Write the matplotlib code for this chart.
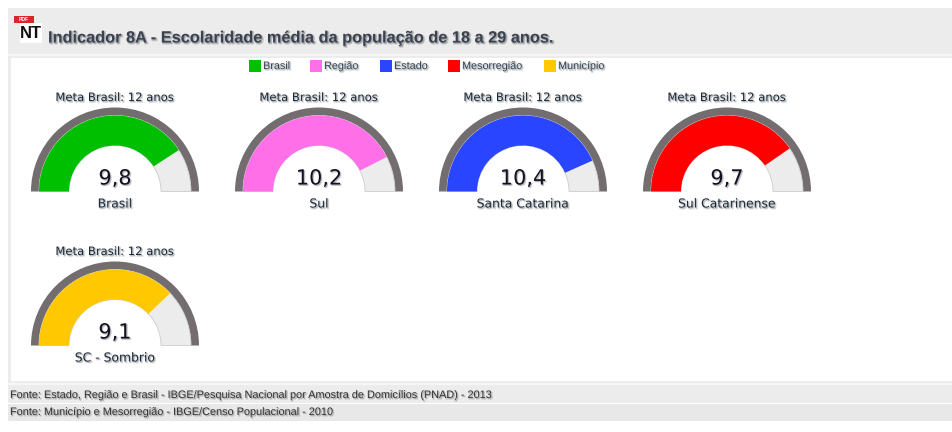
import matplotlib
matplotlib.use("Agg")
import matplotlib.pyplot as plt
from matplotlib.patches import Rectangle, Wedge
import matplotlib.patheffects as pe

W, H = 953, 432
names = ["Brasil", "Sul", "Santa Catarina", "Sul Catarinense", "SC - Sombrio"]
values = [9.8, 10.2, 10.4, 9.7, 9.1]
labels = ["9,8", "10,2", "10,4", "9,7", "9,1"]
colors = ["#00bf00", "#ff70e8", "#2a45ff", "#ff0000", "#ffc800"]
goal = 12
goal_label = "Meta Brasil: 12 anos"
legend_names = ["Brasil", "Região", "Estado", "Mesorregião", "Município"]
legend_x = [249, 310, 380, 448, 544]
centers = [(115, 191.5), (319, 191.5), (523, 191.5), (727, 191.5), (115, 345.5)]
title = "Indicador 8A - Escolaridade média da população de 18 a 29 anos."
sources = ["Fonte: Estado, Região e Brasil - IBGE/Pesquisa Nacional por Amostra de Domicílios (PNAD) - 2013",
           "Fonte: Município e Mesorregião - IBGE/Censo Populacional - 2010"]

fig = plt.figure(figsize=(W / 100, H / 100), dpi=100, facecolor="white")
ax = fig.add_axes([0, 0, 1, 1])
ax.set_xlim(0, W)
ax.set_ylim(H, 0)
ax.axis("off")

def shadow(color="#aaaaaa", w=1.2, a=0.3):
    return [pe.Stroke(linewidth=w, foreground=color, alpha=a, offset=(0.8, -0.8)), pe.Normal()]

def rect(x, y, w, h, c, z=1):
    ax.add_patch(Rectangle((x, y), w, h, fc=c, ec="none", zorder=z))

rect(8, 8, 945, 375, "#ececec")
rect(8, 54, 945, 2, "#f6f6f6", 2)
rect(11, 58, 942, 323, "white", 2)
rect(8, 383, 945, 2, "#f6f6f6", 2)
rect(8, 385, 945, 18, "#ececec")
rect(8, 404, 945, 17, "#e8e8e8")

# icon
rect(20, 23, 22, 20, "white", 3)
rect(14, 16, 20, 7, "#d9262b", 4)
ax.text(24, 19.6, "PDF", fontsize=3.6, color="white", ha="center", va="center", zorder=5,
        family="Liberation Sans", fontweight="bold")
ax.text(31, 33, "NT", fontsize=12, fontweight="bold", color="#111111", ha="center", va="center",
        family="Liberation Sans", zorder=5)

ax.text(48, 38, title, fontsize=11.75, fontweight="bold", color="#3a4250", ha="left", va="center",
        family="Liberation Sans", zorder=5, path_effects=shadow("#888888", 1.3, 0.35))

# legend
for x, name, c in zip(legend_x, legend_names, colors):
    rect(x, 60, 12, 12, c, 5)
    ax.text(x + 14, 66, name, fontsize=7.8, color="#334455", ha="left", va="center",
            family="Liberation Sans", zorder=5, path_effects=shadow())

# gauges: the y axis is inverted, so 180-360 degrees is the upper half on screen
RO, RM, RI = 84, 76, 46
for (cx, cy), name, val, lab, c in zip(centers, names, values, labels, colors):
    ang = 180 * val / goal
    ax.add_patch(Wedge((cx, cy), RO, 180, 360, width=RO - RM, fc="#736d70", ec="none", zorder=3))
    ax.add_patch(Wedge((cx, cy), RM, 180, 360, width=RM - RI, fc="#ececec", ec="#cccccc", lw=0.6, zorder=3))
    ax.add_patch(Wedge((cx, cy), RM, 180, 180 + ang, width=RM - RI, fc=c, ec="none", zorder=4))
    ax.text(cx, cy - 94, goal_label, fontsize=8.35, color="#1c2a3a", ha="center", va="center",
            family="DejaVu Sans", zorder=5, path_effects=shadow())
    ax.text(cx, cy - 13, lab, fontsize=15, color="#111122", ha="center", va="center",
            family="DejaVu Sans", zorder=5, path_effects=shadow("#bbbbbb", 0.8, 0.3))
    ax.text(cx, cy + 12.5, name, fontsize=8.9, color="#1c2a3a", ha="center", va="center",
            family="DejaVu Sans", zorder=5, path_effects=shadow())

for y, s in zip([395, 412], sources):
    ax.text(10, y, s, fontsize=7.85, color="#333333", ha="left", va="center",
            family="Liberation Sans", zorder=5, path_effects=shadow("#aaaaaa", 1.0, 0.3))

fig.savefig("out.png", dpi=100, facecolor="white")
